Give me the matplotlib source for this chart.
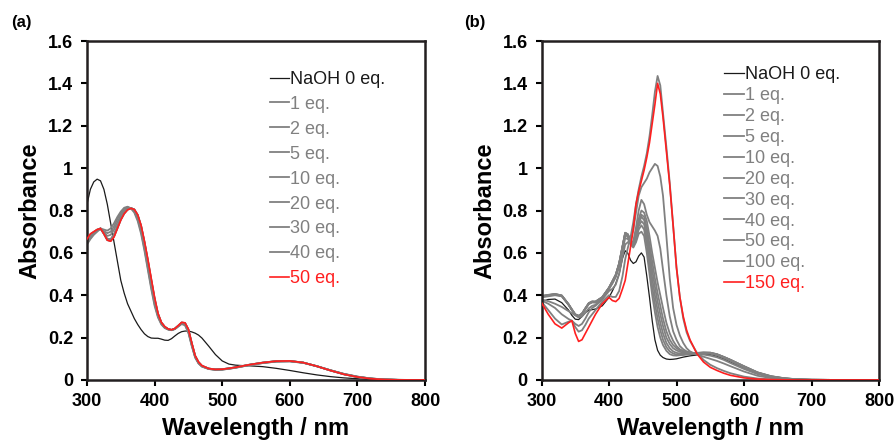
import matplotlib.pyplot as plt
from matplotlib.ticker import FuncFormatter, MultipleLocator

plt.rcParams['font.family'] = ['Liberation Sans', 'DejaVu Sans']

# ---- (a) titration spectra ----
wl_a = [300, 305, 310, 315, 320, 325, 330, 335, 340, 345,
        350, 355, 360, 365, 370, 375, 380, 385, 390, 395,
        400, 405, 410, 415, 420, 425, 430, 435, 440, 445,
        450, 455, 460, 465, 470, 480, 490, 500, 510, 520,
        530, 540, 560, 580, 600, 620, 640, 660, 680, 700,
        720, 740, 760, 780, 800]

a_0eq = [0.83, 0.90, 0.935, 0.948, 0.94, 0.90, 0.83, 0.74, 0.65, 0.56,
         0.47, 0.41, 0.36, 0.325, 0.29, 0.262, 0.238, 0.218, 0.205, 0.198,
         0.197, 0.197, 0.193, 0.188, 0.187, 0.195, 0.208, 0.220, 0.228, 0.231,
         0.231, 0.227, 0.221, 0.212, 0.198, 0.16, 0.12, 0.09, 0.075, 0.07,
         0.068, 0.067, 0.063, 0.055, 0.045, 0.034, 0.024, 0.016, 0.010, 0.006,
         0.003, 0.001, 0, 0, 0]
a_1eq = [0.64, 0.665, 0.685, 0.70, 0.715, 0.71, 0.705, 0.715, 0.74, 0.77,
         0.795, 0.813, 0.818, 0.81, 0.79, 0.75, 0.69, 0.61, 0.52, 0.43,
         0.35, 0.295, 0.262, 0.245, 0.238, 0.235, 0.24, 0.252, 0.264, 0.258,
         0.222, 0.16, 0.105, 0.078, 0.063, 0.052, 0.048, 0.049, 0.053, 0.058,
         0.064, 0.07, 0.08, 0.087, 0.088, 0.081, 0.065, 0.046, 0.029, 0.016,
         0.007, 0.003, 0.001, 0, 0]
a_2eq = [0.645, 0.67, 0.69, 0.703, 0.715, 0.703, 0.693, 0.70, 0.725, 0.76,
         0.788, 0.808, 0.816, 0.81, 0.795, 0.76, 0.70, 0.62, 0.53, 0.44,
         0.358, 0.30, 0.265, 0.247, 0.239, 0.236, 0.241, 0.254, 0.266, 0.261,
         0.226, 0.163, 0.108, 0.079, 0.064, 0.052, 0.048, 0.049, 0.053, 0.058,
         0.064, 0.07, 0.08, 0.087, 0.088, 0.081, 0.065, 0.046, 0.029, 0.016,
         0.007, 0.003, 0.001, 0, 0]
a_5eq = [0.65, 0.675, 0.692, 0.705, 0.715, 0.697, 0.68, 0.685, 0.71, 0.745,
         0.778, 0.80, 0.813, 0.812, 0.80, 0.77, 0.71, 0.632, 0.545, 0.452,
         0.367, 0.305, 0.268, 0.249, 0.24, 0.237, 0.242, 0.255, 0.268, 0.264,
         0.23, 0.166, 0.11, 0.08, 0.065, 0.053, 0.049, 0.05, 0.054, 0.059,
         0.065, 0.071, 0.081, 0.088, 0.089, 0.082, 0.065, 0.046, 0.028, 0.015,
         0.007, 0.002, 0.0005, 0, 0]
a_10eq = [0.655, 0.68, 0.695, 0.707, 0.715, 0.692, 0.667, 0.665, 0.69, 0.728,
          0.765, 0.792, 0.808, 0.812, 0.803, 0.775, 0.72, 0.642, 0.555, 0.462,
          0.375, 0.308, 0.27, 0.25, 0.24, 0.236, 0.242, 0.256, 0.27, 0.267,
          0.234, 0.17, 0.112, 0.082, 0.066, 0.053, 0.049, 0.05, 0.054, 0.059,
          0.065, 0.071, 0.081, 0.088, 0.089, 0.082, 0.065, 0.046, 0.028, 0.015,
          0.007, 0.002, 0.0005, 0, 0]
a_20eq = [0.658, 0.683, 0.697, 0.708, 0.715, 0.69, 0.663, 0.66, 0.683, 0.722,
          0.76, 0.788, 0.806, 0.812, 0.804, 0.777, 0.724, 0.647, 0.56, 0.468,
          0.38, 0.31, 0.271, 0.251, 0.24, 0.236, 0.242, 0.256, 0.271, 0.268,
          0.236, 0.172, 0.113, 0.083, 0.067, 0.054, 0.05, 0.051, 0.055, 0.06,
          0.066, 0.072, 0.082, 0.089, 0.09, 0.082, 0.065, 0.045, 0.027, 0.014,
          0.006, 0.002, 0.0005, 0, 0]
a_30eq = [0.66, 0.685, 0.698, 0.709, 0.715, 0.69, 0.661, 0.657, 0.679, 0.718,
          0.757, 0.786, 0.805, 0.811, 0.805, 0.778, 0.727, 0.65, 0.564, 0.472,
          0.383, 0.312, 0.271, 0.251, 0.24, 0.236, 0.242, 0.256, 0.271, 0.269,
          0.237, 0.173, 0.114, 0.084, 0.067, 0.054, 0.05, 0.051, 0.055, 0.06,
          0.066, 0.072, 0.082, 0.089, 0.09, 0.082, 0.065, 0.045, 0.027, 0.014,
          0.006, 0.002, 0.0005, 0, 0]
a_40eq = [0.662, 0.687, 0.699, 0.71, 0.715, 0.69, 0.66, 0.656, 0.677, 0.716,
          0.756, 0.785, 0.804, 0.81, 0.805, 0.779, 0.729, 0.652, 0.567, 0.476,
          0.386, 0.313, 0.271, 0.251, 0.24, 0.236, 0.242, 0.256, 0.271, 0.269,
          0.238, 0.174, 0.114, 0.084, 0.067, 0.054, 0.05, 0.051, 0.055, 0.06,
          0.066, 0.072, 0.082, 0.089, 0.09, 0.082, 0.065, 0.045, 0.027, 0.014,
          0.006, 0.002, 0.0005, 0, 0]
a_50eq = [0.665, 0.69, 0.70, 0.71, 0.715, 0.69, 0.66, 0.655, 0.675, 0.715,
          0.755, 0.785, 0.803, 0.81, 0.805, 0.78, 0.73, 0.655, 0.57, 0.48,
          0.39, 0.315, 0.272, 0.252, 0.241, 0.237, 0.243, 0.257, 0.272, 0.27,
          0.24, 0.175, 0.115, 0.085, 0.068, 0.054, 0.05, 0.051, 0.055, 0.06,
          0.066, 0.072, 0.082, 0.089, 0.09, 0.082, 0.065, 0.045, 0.027, 0.014,
          0.006, 0.002, 0.0005, 0, 0]

labels_a = ['NaOH 0 eq.', '1 eq.', '2 eq.', '5 eq.', '10 eq.', '20 eq.',
            '30 eq.', '40 eq.', '50 eq.']
series_a = [a_0eq, a_1eq, a_2eq, a_5eq, a_10eq, a_20eq, a_30eq, a_40eq, a_50eq]

# ---- (b) titration spectra ----
wl_b = [300, 310, 320, 330, 340, 345, 350, 355, 360, 365,
        370, 375, 380, 390, 400, 405, 410, 415, 420, 424,
        428, 432, 436, 440, 444, 448, 452, 456, 460, 464,
        468, 472, 476, 480, 485, 490, 495, 500, 505, 510,
        515, 520, 530, 540, 550, 560, 570, 580, 600, 620,
        640, 660, 680, 700, 750, 800]

b_0eq = [0.37, 0.38, 0.382, 0.365, 0.33, 0.305, 0.287, 0.285, 0.30, 0.318,
         0.33, 0.332, 0.335, 0.35, 0.39, 0.42, 0.455, 0.50, 0.575, 0.61,
         0.598, 0.565, 0.55, 0.558, 0.585, 0.60, 0.58, 0.49, 0.39, 0.28,
         0.19, 0.14, 0.117, 0.106, 0.099, 0.097, 0.098, 0.10, 0.104, 0.108,
         0.111, 0.114, 0.118, 0.121, 0.121, 0.112, 0.10, 0.085, 0.058, 0.03,
         0.014, 0.006, 0.002, 0.001, 0, 0]
b_1eq = [0.39, 0.395, 0.40, 0.395, 0.355, 0.33, 0.307, 0.30, 0.31, 0.335,
         0.358, 0.366, 0.365, 0.385, 0.43, 0.46, 0.49, 0.54, 0.62, 0.685,
         0.675, 0.64, 0.625, 0.65, 0.69, 0.70, 0.68, 0.60, 0.50, 0.40,
         0.32, 0.25, 0.20, 0.165, 0.138, 0.122, 0.116, 0.115, 0.117, 0.118,
         0.12, 0.121, 0.123, 0.126, 0.127, 0.12, 0.108, 0.095, 0.065, 0.036,
         0.018, 0.008, 0.003, 0.001, 0, 0]
b_2eq = [0.393, 0.398, 0.403, 0.397, 0.357, 0.332, 0.309, 0.302, 0.312, 0.337,
         0.36, 0.368, 0.367, 0.388, 0.433, 0.463, 0.493, 0.545, 0.625, 0.69,
         0.68, 0.645, 0.632, 0.66, 0.71, 0.73, 0.71, 0.64, 0.54, 0.44,
         0.36, 0.29, 0.235, 0.19, 0.155, 0.135, 0.125, 0.12, 0.12, 0.121,
         0.122, 0.123, 0.125, 0.128, 0.128, 0.121, 0.109, 0.095, 0.065, 0.036,
         0.018, 0.008, 0.003, 0.001, 0, 0]
b_5eq = [0.395, 0.40, 0.405, 0.398, 0.358, 0.333, 0.31, 0.303, 0.313, 0.338,
         0.362, 0.37, 0.369, 0.39, 0.435, 0.465, 0.495, 0.548, 0.628, 0.692,
         0.683, 0.65, 0.638, 0.668, 0.725, 0.75, 0.735, 0.67, 0.58, 0.48,
         0.40, 0.33, 0.27, 0.22, 0.175, 0.15, 0.135, 0.128, 0.125, 0.124,
         0.124, 0.125, 0.127, 0.13, 0.129, 0.122, 0.109, 0.095, 0.064, 0.035,
         0.017, 0.008, 0.003, 0.001, 0, 0]
b_10eq = [0.396, 0.401, 0.406, 0.399, 0.358, 0.333, 0.31, 0.303, 0.314, 0.339,
          0.363, 0.371, 0.37, 0.391, 0.436, 0.466, 0.497, 0.55, 0.63, 0.694,
          0.686, 0.653, 0.642, 0.675, 0.738, 0.77, 0.755, 0.70, 0.61, 0.52,
          0.44, 0.37, 0.31, 0.255, 0.20, 0.17, 0.15, 0.14, 0.133, 0.13,
          0.128, 0.127, 0.128, 0.13, 0.129, 0.121, 0.108, 0.094, 0.063, 0.034,
          0.016, 0.007, 0.003, 0.001, 0, 0]
b_20eq = [0.397, 0.402, 0.406, 0.399, 0.357, 0.332, 0.309, 0.302, 0.313, 0.338,
          0.362, 0.37, 0.37, 0.391, 0.436, 0.466, 0.497, 0.55, 0.63, 0.695,
          0.687, 0.655, 0.645, 0.68, 0.745, 0.78, 0.77, 0.72, 0.64, 0.56,
          0.48, 0.41, 0.35, 0.29, 0.23, 0.19, 0.165, 0.15, 0.14, 0.135,
          0.13, 0.128, 0.127, 0.128, 0.127, 0.119, 0.106, 0.092, 0.061, 0.033,
          0.015, 0.007, 0.002, 0.001, 0, 0]
b_30eq = [0.395, 0.40, 0.404, 0.397, 0.355, 0.33, 0.307, 0.30, 0.311, 0.336,
          0.36, 0.368, 0.368, 0.39, 0.435, 0.465, 0.496, 0.55, 0.63, 0.695,
          0.688, 0.657, 0.65, 0.69, 0.76, 0.80, 0.79, 0.75, 0.68, 0.60,
          0.53, 0.46, 0.40, 0.34, 0.27, 0.22, 0.185, 0.16, 0.145, 0.137,
          0.132, 0.128, 0.125, 0.125, 0.124, 0.117, 0.105, 0.09, 0.06, 0.032,
          0.015, 0.006, 0.002, 0.001, 0, 0]
b_40eq = [0.38, 0.372, 0.36, 0.345, 0.325, 0.315, 0.305, 0.295, 0.30, 0.318,
          0.338, 0.35, 0.355, 0.385, 0.43, 0.455, 0.485, 0.535, 0.61, 0.67,
          0.665, 0.645, 0.655, 0.72, 0.80, 0.85, 0.83, 0.78, 0.745, 0.725,
          0.705, 0.68, 0.62, 0.52, 0.40, 0.30, 0.23, 0.19, 0.16, 0.145,
          0.135, 0.13, 0.124, 0.12, 0.115, 0.107, 0.095, 0.08, 0.052, 0.028,
          0.013, 0.006, 0.002, 0.001, 0, 0]
b_50eq = [0.375, 0.36, 0.34, 0.31, 0.288, 0.28, 0.265, 0.255, 0.265, 0.29,
          0.32, 0.34, 0.35, 0.38, 0.42, 0.43, 0.45, 0.50, 0.58, 0.64,
          0.65, 0.665, 0.71, 0.79, 0.87, 0.91, 0.93, 0.95, 0.98, 1.0,
          1.02, 1.01, 0.96, 0.87, 0.68, 0.48, 0.34, 0.26, 0.21, 0.175,
          0.15, 0.135, 0.12, 0.11, 0.10, 0.09, 0.078, 0.065, 0.04, 0.02,
          0.009, 0.004, 0.001, 0, 0, 0]
b_100eq = [0.37, 0.33, 0.29, 0.262, 0.275, 0.28, 0.25, 0.228, 0.235, 0.26,
           0.29, 0.31, 0.33, 0.37, 0.40, 0.392, 0.392, 0.42, 0.49, 0.57,
           0.625, 0.675, 0.745, 0.83, 0.90, 0.96, 1.01, 1.07, 1.15, 1.25,
           1.36, 1.435, 1.39, 1.26, 1.10, 0.93, 0.73, 0.53, 0.39, 0.29,
           0.225, 0.185, 0.13, 0.095, 0.072, 0.056, 0.043, 0.032, 0.016, 0.007,
           0.003, 0.001, 0, 0, 0, 0]
b_150eq = [0.365, 0.31, 0.265, 0.245, 0.27, 0.28, 0.22, 0.182, 0.19, 0.22,
           0.25, 0.28, 0.31, 0.36, 0.39, 0.375, 0.37, 0.385, 0.43, 0.47,
           0.55, 0.63, 0.71, 0.83, 0.89, 0.94, 0.99, 1.05, 1.12, 1.21,
           1.30, 1.40, 1.35, 1.24, 1.08, 0.92, 0.73, 0.53, 0.39, 0.30,
           0.235, 0.19, 0.125, 0.085, 0.06, 0.045, 0.032, 0.022, 0.01, 0.004,
           0.002, 0.001, 0, 0, 0, 0]

labels_b = ['NaOH 0 eq.', '1 eq.', '2 eq.', '5 eq.', '10 eq.', '20 eq.',
            '30 eq.', '40 eq.', '50 eq.', '100 eq.', '150 eq.']
series_b = [b_0eq, b_1eq, b_2eq, b_5eq, b_10eq, b_20eq, b_30eq, b_40eq,
            b_50eq, b_100eq, b_150eq]

BLACK = '#1a1a1a'
GRAY = '#808080'
RED = '#ff1f1f'


def draw_panel(ax, wl, series, labels, legend_y, spacing):
    n = len(series)
    for i, (y, lab) in enumerate(zip(series, labels)):
        if i == 0:
            ax.plot(wl, y, color=BLACK, lw=0.9, label=lab)
        elif i == n - 1:
            ax.plot(wl, y, color=RED, lw=1.2, label=lab, zorder=4)
        else:
            ax.plot(wl, y, color=GRAY, lw=1.3, label=lab)

    ax.set_xlim(300, 800)
    ax.set_ylim(0, 1.6)
    ax.xaxis.set_major_locator(MultipleLocator(100))
    ax.yaxis.set_major_locator(MultipleLocator(0.2))
    ax.yaxis.set_major_formatter(FuncFormatter(lambda v, p: f'{v:g}'))
    ax.tick_params(direction='out', length=4, width=1.5, labelsize=13,
                   top=False, right=False)
    ax.tick_params(axis='x', pad=5)
    ax.tick_params(axis='y', pad=6)
    for lbl in ax.get_xticklabels() + ax.get_yticklabels():
        lbl.set_fontweight('bold')
    for sp in ax.spines.values():
        sp.set_linewidth(1.8)
        sp.set_color('#231f20')

    ax.set_xlabel('Wavelength / nm', fontsize=17, fontweight='bold')
    ax.set_ylabel('Absorbance', fontsize=17, fontweight='bold')
    ax.xaxis.set_label_coords(0.5, -0.11)
    ax.yaxis.set_label_coords(-0.135, 0.5)

    ax.legend(loc='upper left', bbox_to_anchor=(0.54, legend_y),
              frameon=False, fontsize=13, handlelength=1.1,
              handletextpad=0.05, labelspacing=spacing, borderpad=0,
              borderaxespad=0, labelcolor='linecolor')


fig = plt.figure(figsize=(8.96, 4.43), dpi=100)
ax_a = fig.add_axes([87 / 896, 63 / 443, 338 / 896, 339 / 443])
ax_b = fig.add_axes([541.5 / 896, 63 / 443, 337.5 / 896, 339 / 443])

draw_panel(ax_a, wl_a, series_a, labels_a, 0.912, 0.44)
draw_panel(ax_b, wl_b, series_b, labels_b, 0.925, 0.215)

fig.text(21 / 896, 1 - 23 / 443, '(a)', fontsize=12, fontweight='bold',
         ha='center', va='center')
fig.text(475 / 896, 1 - 23 / 443, '(b)', fontsize=12, fontweight='bold',
         ha='center', va='center')

fig.savefig('out.png', dpi=100)
